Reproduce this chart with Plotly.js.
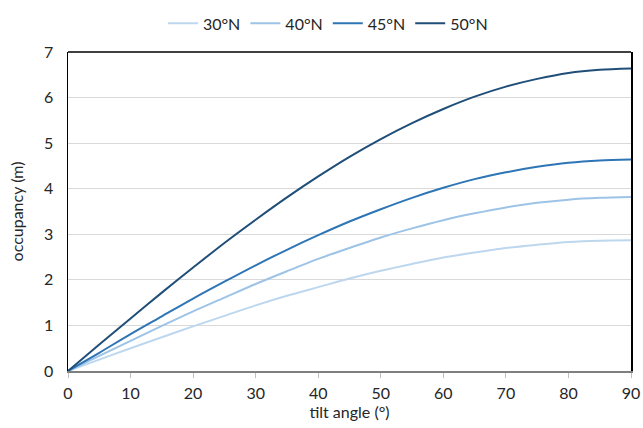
<!DOCTYPE html>
<html>
<head>
<meta charset="utf-8">
<script src="https://cdn.plot.ly/plotly-3.0.1.min.js"></script>
<style>html,body{margin:0;padding:0;background:#fff;}#chart{width:643px;height:428px;}</style>
</head>
<body>
<div id="chart"></div>
<script>
const tiltAngles = [0,5,10,15,20,25,30,35,40,45,50,55,60,65,70,75,80,85,90];
const seriesNames = ["30°N","40°N","45°N","50°N"];
const occ30N = [0,0.25,0.50,0.74,0.98,1.21,1.44,1.65,1.84,2.03,2.20,2.35,2.49,2.60,2.70,2.77,2.83,2.86,2.87];
const occ40N = [0,0.33,0.66,0.99,1.31,1.61,1.91,2.19,2.46,2.70,2.93,3.13,3.31,3.46,3.59,3.69,3.76,3.80,3.82];
const occ45N = [0,0.40,0.81,1.20,1.59,1.96,2.32,2.66,2.98,3.28,3.55,3.80,4.02,4.21,4.36,4.48,4.57,4.62,4.64];
const occ50N = [0,0.58,1.15,1.72,2.27,2.81,3.32,3.81,4.27,4.70,5.09,5.44,5.75,6.02,6.24,6.41,6.54,6.61,6.64];
const xTicks = [0,10,20,30,40,50,60,70,80,90];
const yTicks = [0,1,2,3,4,5,6,7];

const colors = ["#BDD7EE","#9DC3E6","#2E75B6","#1F4E79"];
const allSeries = [occ30N, occ40N, occ45N, occ50N];

const traces = allSeries.map((ys, i) => ({
  x: tiltAngles, y: ys, name: seriesNames[i], type: "scatter", mode: "lines",
  line: {color: colors[i], width: 2, shape: "spline", smoothing: 0.8}
}));

const font = {family: "Lato, 'Open Sans', sans-serif", size: 16, color: "#262626"};
const layout = {
  width: 643, height: 428,
  margin: {l: 68, r: 12, t: 52, b: 57},
  paper_bgcolor: "#fff", plot_bgcolor: "#fff",
  font: font,
  showlegend: true,
  legend: {orientation: "h", xref: "container", yref: "container", x: 0.51, xanchor: "center", y: 0.985, yanchor: "top",
           font: font, itemwidth: 30, tracegroupgap: 0},
  xaxis: {range: [0, 90], tickvals: xTicks, showgrid: false, zeroline: false,
          showline: true, linecolor: "#7f7f7f", linewidth: 2,
          ticks: "outside", ticklen: 5, tickcolor: "#bfbfbf", tickwidth: 1, ticklabelstandoff: 2,
          title: {text: "tilt angle (°)", font: font, standoff: 4}, tickfont: font},
  yaxis: {range: [0, 7], tickvals: yTicks, showgrid: true, gridcolor: "#d9d9d9", gridwidth: 1,
          zeroline: false, showline: true, linecolor: "#000", linewidth: 1.5, mirror: true,
          ticks: "", ticklabelstandoff: 10,
          title: {text: "occupancy (m)", font: font, standoff: 16}, tickfont: font},
  shapes: [{type: "line", xref: "paper", yref: "paper", x0: 0, x1: 1, y0: 1, y1: 1,
            line: {color: "#000", width: 1.5}}]
};
Plotly.newPlot("chart", traces, layout, {displayModeBar: false, staticPlot: true});
</script>
</body>
</html>
